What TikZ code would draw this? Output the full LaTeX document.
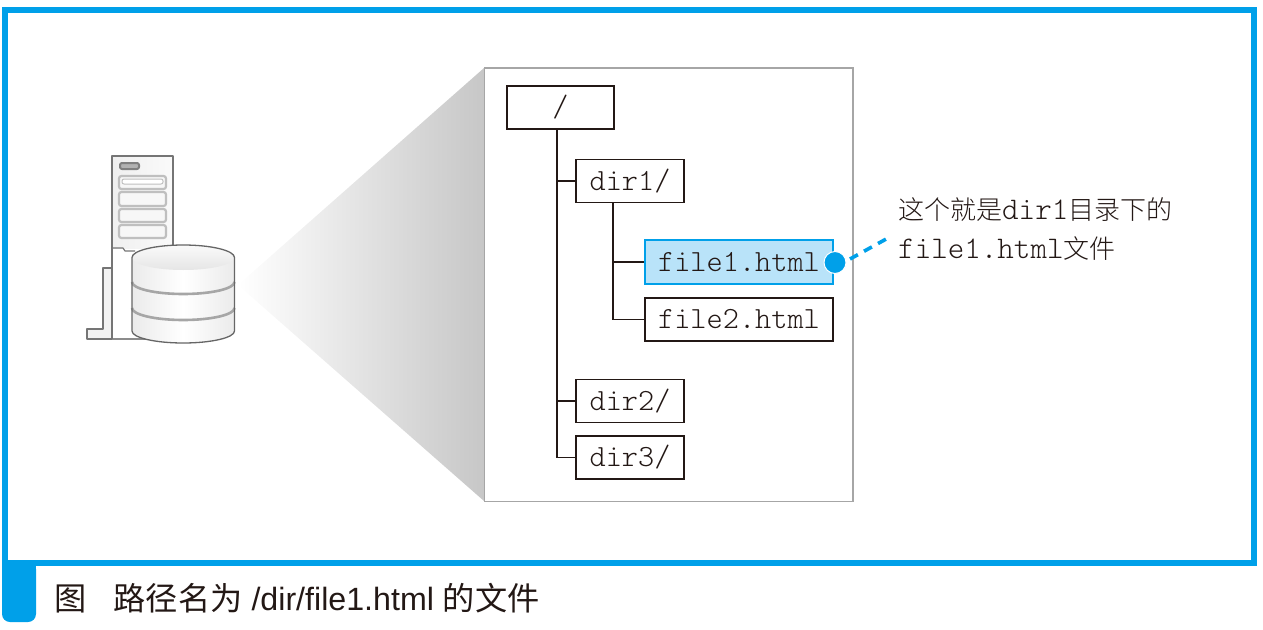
\documentclass[tikz,border=0pt]{standalone}
\usepackage{fontspec}
\setmainfont{Liberation Sans}
\newfontfamily\cjk{Noto Sans CJK SC}
\newfontfamily\cjklight{Noto Sans CJK SC Light}
\newfontfamily\monolight{Latin Modern Mono Light}
\usetikzlibrary{calc}
\definecolor{blu}{HTML}{00A0E9}
\definecolor{lblu}{HTML}{B9E3F9}
\definecolor{ink}{HTML}{231815}
\definecolor{srv}{HTML}{757575}
\tikzset{
  treebox/.style={draw=ink,line width=1.8pt,fill=white,inner sep=0pt,font=\fontsize{30.8}{30.8}\selectfont\monolight,text=ink},
  treeline/.style={draw=ink,line width=1.8pt},
  slot/.style={draw=black!25,line width=2.2pt,rounded corners=2.5pt,fill=black!3},
  srvline/.style={draw=srv,line width=2pt,line join=round},
  cylarc/.style={x radius=51.25pt,y radius=12pt},
}
\begin{document}
\begin{tikzpicture}[x=1pt,y=-1pt]
\useasboundingbox (0,0) rectangle (1263,629);
% frame
\draw[blu,line width=6pt] (4.5,9.5) rectangle (1253.5,563);
\fill[blu,rounded corners=8pt] (2,561) -- (36,561) -- (36,622) -- (2,622) -- cycle;
\fill[blu] (2,560) rectangle (36,572);
\node[anchor=west,inner sep=0pt,text=ink,font=\fontsize{32.2}{32.2}\selectfont] (cap) at (54,598) {{\cjk 图\hspace{0.85em}路径名为} /dir/file1.html {\cjk 的文件}};
% cone
\shade[left color=white,right color=black!22] (238,285) -- (484,68) -- (484,501) -- cycle;
% panel
\draw[draw=black!35,line width=1.6pt,fill=white] (484.5,68) rectangle (853,501.5);
% server
\draw[srvline,fill=black!5] (112,268) -- (103,268) -- (103,329) -- (87,329) -- (87,339) -- (112,339) -- cycle;
\fill[white] (112,248) rectangle (173,339);
\draw[draw=black!45,line width=1.2pt] (112,339) -- (173,339);
\shade[left color=black!6,right color=black!2] (112,156) rectangle (173,248);
\draw[srvline] (173,248) -- (173,156) -- (112,156) -- (112,339);
\draw[srvline,line width=1.2pt] (112,248) -- (123,248) -- (125,251) -- (135,251);
\draw[srvline,draw=black!50,fill=black!30,rounded corners=2pt] (120,163) rectangle (139,169);
\draw[slot] (119,176) rectangle (166,189);
\draw[draw=black!25,line width=1pt,fill=white,rounded corners=2pt] (122,179) rectangle (163,184);
\draw[slot] (119,192) rectangle (166,206);
\draw[slot] (119,209) rectangle (166,222);
\draw[slot] (119,225) rectangle (166,238);
% cylinder
\path[left color=black!8,right color=black!8,middle color=white] (132,257.5) -- (132,331) arc[start angle=180,end angle=360,cylarc] -- (234.5,257.5) -- cycle;
\draw[black!35,line width=2.6pt] (132,282) arc[start angle=180,end angle=360,cylarc];
\draw[black!35,line width=2.6pt] (132,308) arc[start angle=180,end angle=360,cylarc];
\shade[top color=black!2,bottom color=black!10] (183.25,257.5) ellipse[x radius=51.25pt,y radius=12.5pt];
\draw[srvline,draw=black!60,line width=1.3pt] (132,257.5) arc[start angle=180,end angle=0,x radius=51.25pt,y radius=12.5pt] -- (234.5,331) arc[start angle=360,end angle=180,cylarc] -- cycle;
% tree
\coordinate (trunk) at (557,0);
\coordinate (branch) at (613,0);
\node[treebox,minimum width=107pt,minimum height=43pt] (root) at (560.5,107.5) {/};
\node[treebox,minimum width=108pt,minimum height=43pt] (dir1) at (630,181) {dir1/};
\node[treebox,minimum width=108pt,minimum height=43pt] (dir2) at (630,401) {dir2/};
\node[treebox,minimum width=108pt,minimum height=43pt] (dir3) at (630,457.5) {dir3/};
\node[treebox,draw=blu,fill=lblu,minimum width=188pt,minimum height=44pt] (file1) at (739,262) {file1.html};
\node[treebox,minimum width=188pt,minimum height=43pt] (file2) at (739,319.5) {file2.html};
\draw[treeline] (root.south -| trunk) -- (trunk |- dir3.west) -- (dir3.west);
\draw[treeline] (trunk |- dir1.west) -- (dir1.west);
\draw[treeline] (trunk |- dir2.west) -- (dir2.west);
\draw[treeline] (dir1.south -| branch) -- (branch |- file2.west) -- (file2.west);
\draw[treeline] (branch |- file1.west) -- (file1.west);
% callout
\node[circle,fill=blu,draw=white,line width=1pt,minimum size=22pt,inner sep=0pt] (dot) at (835,262.5) {};
\coordinate (tip) at (888,238);
\draw[blu,line width=3.6pt,dash pattern=on 9pt off 7pt] ($(dot)+(15,-3.5)$) -- (tip);
\node[anchor=west,inner sep=0pt,text=ink,font=\fontsize{26}{26}\selectfont] (note1) at (898,210) {\cjklight 这个就是{\fontsize{31.5}{31.5}\selectfont\monolight dir1}目录下的};
\node[anchor=west,inner sep=0pt,text=ink,font=\fontsize{26}{26}\selectfont] (note2) at (898,249) {{\fontsize{31.5}{31.5}\selectfont\monolight file1.html}\cjklight 文件};
\end{tikzpicture}
\end{document}
